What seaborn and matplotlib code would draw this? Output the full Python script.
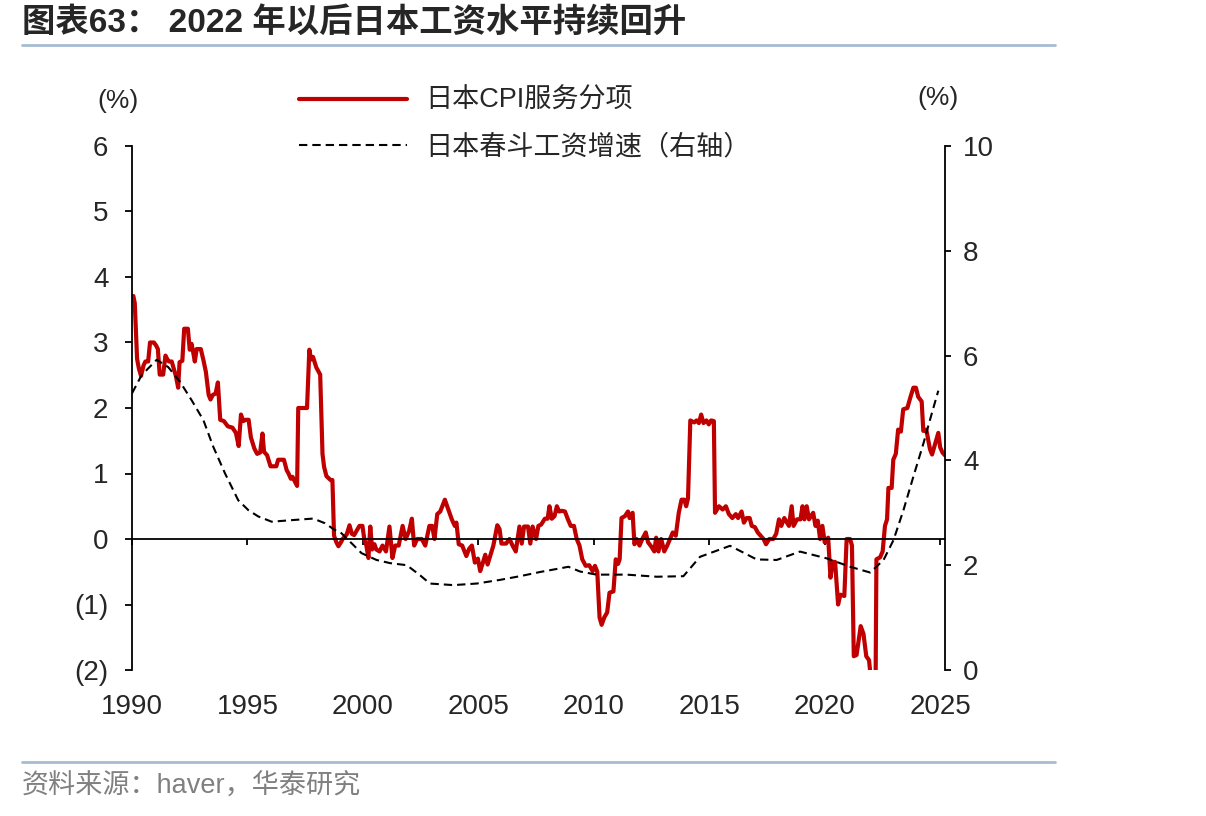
import numpy as np
import pandas as pd
import matplotlib
matplotlib.use("Agg")
import matplotlib.pyplot as plt
from matplotlib.lines import Line2D
import seaborn as sns

# 日本CPI服务分项 (% yoy, left axis)
cpi_dates = [
    1990.00, 1990.06, 1990.12, 1990.22, 1990.30, 1990.39, 1990.50, 1990.58, 1990.70, 1990.78,
    1990.95, 1991.05, 1991.12, 1991.20, 1991.35, 1991.45, 1991.52, 1991.60, 1991.72, 1991.82,
    1991.90, 1992.00, 1992.06, 1992.18, 1992.26, 1992.42, 1992.50, 1992.58, 1992.65, 1992.72,
    1992.80, 1992.98, 1993.10, 1993.20, 1993.32, 1993.40, 1993.50, 1993.62, 1993.72, 1993.82,
    1993.98, 1994.15, 1994.35, 1994.50, 1994.62, 1994.72, 1994.82, 1994.92, 1995.05, 1995.15,
    1995.30, 1995.42, 1995.55, 1995.65, 1995.72, 1995.85, 1996.00, 1996.25, 1996.33, 1996.58,
    1996.70, 1996.78, 1996.88, 1996.95, 1997.05, 1997.15, 1997.20, 1997.58, 1997.68, 1997.76,
    1997.84, 1997.98, 1998.15, 1998.25, 1998.32, 1998.42, 1998.60, 1998.68, 1998.75, 1998.85,
    1998.94, 1999.05, 1999.12, 1999.25, 1999.30, 1999.42, 1999.52, 1999.62, 1999.72, 1999.85,
    1999.98, 2000.06, 2000.15, 2000.24, 2000.32, 2000.40, 2000.50, 2000.58, 2000.72, 2000.85,
    2001.00, 2001.15, 2001.28, 2001.40, 2001.55, 2001.72, 2001.85, 2002.00, 2002.12, 2002.22,
    2002.35, 2002.55, 2002.70, 2002.88, 2003.00, 2003.10, 2003.22, 2003.35, 2003.55, 2003.70,
    2003.85, 2003.98, 2004.05, 2004.15, 2004.30, 2004.48, 2004.60, 2004.72, 2004.85, 2004.98,
    2005.08, 2005.18, 2005.30, 2005.40, 2005.52, 2005.65, 2005.82, 2005.92, 2006.00, 2006.20,
    2006.35, 2006.48, 2006.62, 2006.78, 2006.88, 2006.98, 2007.15, 2007.25, 2007.35, 2007.50,
    2007.60, 2007.72, 2007.88, 2008.00, 2008.08, 2008.18, 2008.30, 2008.40, 2008.50, 2008.62,
    2008.75, 2008.88, 2009.00, 2009.14, 2009.26, 2009.38, 2009.50, 2009.65, 2009.80, 2009.95,
    2010.05, 2010.15, 2010.25, 2010.34, 2010.45, 2010.58, 2010.68, 2010.85, 2010.95, 2011.05,
    2011.12, 2011.20, 2011.35, 2011.48, 2011.55, 2011.68, 2011.76, 2011.85, 2011.98, 2012.10,
    2012.25, 2012.35, 2012.50, 2012.62, 2012.70, 2012.80, 2012.92, 2013.05, 2013.18, 2013.30,
    2013.42, 2013.55, 2013.68, 2013.80, 2013.92, 2014.00, 2014.08, 2014.18, 2014.35, 2014.45,
    2014.55, 2014.65, 2014.75, 2014.88, 2014.98, 2015.08, 2015.20, 2015.25, 2015.42, 2015.58,
    2015.72, 2015.85, 2016.00, 2016.15, 2016.25, 2016.40, 2016.50, 2016.62, 2016.75, 2016.84,
    2016.98, 2017.10, 2017.20, 2017.35, 2017.46, 2017.60, 2017.77, 2017.90, 2018.02, 2018.12,
    2018.25, 2018.45, 2018.57, 2018.65, 2018.80, 2018.95, 2019.04, 2019.12, 2019.22, 2019.32,
    2019.50, 2019.60, 2019.70, 2019.80, 2019.90, 2020.00, 2020.15, 2020.25, 2020.35, 2020.45,
    2020.58, 2020.68, 2020.85, 2020.95, 2021.10, 2021.18, 2021.26, 2021.38, 2021.56, 2021.68,
    2021.80, 2021.92, 2021.99, 2022.10, 2022.20, 2022.24, 2022.40, 2022.51, 2022.61, 2022.70,
    2022.76, 2022.90, 2022.97, 2023.08, 2023.18, 2023.30, 2023.40, 2023.58, 2023.70, 2023.84,
    2023.95, 2024.05, 2024.20, 2024.27, 2024.40, 2024.56, 2024.65, 2024.78, 2024.92, 2025.00,
    2025.10, 2025.20,
]
cpi_values = [
    3.70, 3.71, 3.60, 2.75, 2.60, 2.49, 2.65, 2.71, 2.71, 3.00,
    3.00, 2.95, 2.90, 2.51, 2.51, 2.80, 2.75, 2.71, 2.71, 2.59,
    2.49, 2.31, 2.70, 2.72, 3.21, 3.21, 2.89, 2.98, 2.85, 2.71,
    2.90, 2.90, 2.72, 2.55, 2.20, 2.13, 2.20, 2.22, 2.39, 1.82,
    1.80, 1.72, 1.70, 1.62, 1.42, 1.90, 1.80, 1.82, 1.82, 1.55,
    1.38, 1.30, 1.32, 1.61, 1.33, 1.28, 1.11, 1.11, 1.21, 1.21,
    1.05, 1.00, 0.92, 0.95, 0.88, 0.81, 2.00, 2.00, 2.89, 2.74,
    2.78, 2.62, 2.51, 1.30, 1.10, 0.96, 0.90, 0.90, 0.05, -0.05,
    -0.11, -0.05, 0.00, 0.05, 0.07, 0.21, 0.08, 0.06, 0.12, 0.20,
    0.20, 0.00, -0.10, -0.29, 0.19, -0.16, -0.08, -0.16, -0.19, -0.10,
    -0.19, 0.19, -0.29, -0.10, -0.10, 0.20, 0.00, 0.12, 0.31, -0.10,
    0.00, 0.00, -0.10, 0.20, 0.20, 0.00, 0.38, 0.42, 0.60, 0.45,
    0.30, 0.20, 0.25, -0.08, -0.10, -0.26, -0.15, -0.10, -0.36, -0.30,
    -0.49, -0.38, -0.24, -0.39, -0.25, -0.10, 0.21, 0.15, -0.07, -0.07,
    0.00, -0.10, -0.19, 0.19, -0.07, 0.19, 0.19, -0.07, 0.19, 0.00,
    0.20, 0.22, 0.31, 0.31, 0.50, 0.31, 0.35, 0.50, 0.42, 0.43,
    0.42, 0.30, 0.20, 0.20, 0.00, -0.10, -0.31, -0.41, -0.40, -0.49,
    -0.41, -0.50, -1.20, -1.31, -1.20, -1.12, -0.82, -0.80, -0.31, -0.38,
    -0.31, 0.32, 0.35, 0.42, 0.32, 0.40, -0.08, 0.00, -0.10, 0.00,
    0.10, -0.05, -0.12, -0.19, 0.02, -0.19, 0.00, -0.19, -0.10, 0.00,
    0.10, 0.05, 0.40, 0.60, 0.60, 0.50, 0.62, 1.81, 1.78, 1.81,
    1.77, 1.90, 1.77, 1.81, 1.75, 1.81, 1.80, 0.40, 0.50, 0.45,
    0.50, 0.38, 0.32, 0.38, 0.32, 0.42, 0.25, 0.32, 0.32, 0.20,
    0.18, 0.10, 0.06, 0.00, -0.08, 0.00, 0.00, 0.08, 0.30, 0.20,
    0.32, 0.20, 0.50, 0.20, 0.30, 0.30, 0.50, 0.30, 0.50, 0.30,
    0.40, 0.20, 0.28, 0.00, 0.20, -0.05, 0.02, -0.59, -0.35, -0.35,
    -1.00, -0.85, -0.87, 0.00, 0.00, -0.10, -1.79, -1.77, -1.33, -1.45,
    -1.79, -1.85, -2.10, -2.40, -2.40, -0.31, -0.28, -0.19, 0.20, 0.30,
    0.78, 0.78, 1.21, 1.30, 1.67, 1.64, 1.98, 2.00, 2.15, 2.31,
    2.31, 2.17, 2.10, 1.65, 1.67, 1.37, 1.29, 1.45, 1.62, 1.40,
    1.32, 1.28,
]

# 日本春斗工资增速 (%, right axis)
wage_dates = [
    1990.00, 1990.42, 1991.07, 1991.57, 1992.08, 1992.58, 1993.09, 1993.52, 1994.03, 1994.60,
    1995.04, 1995.47, 1996.05, 1996.92, 1997.85, 1998.36, 1998.79, 1999.00, 1999.44, 1999.94,
    2000.59, 2001.17, 2001.90, 2002.47, 2002.90, 2003.92, 2004.93, 2005.94, 2006.80, 2007.67,
    2008.54, 2008.90, 2009.40, 2010.12, 2011.42, 2012.72, 2013.88, 2014.60, 2015.03, 2015.90,
    2016.48, 2017.05, 2017.92, 2018.93, 2020.09, 2021.10, 2021.97, 2022.55, 2022.98, 2023.41,
    2023.84, 2024.28, 2024.64, 2024.92,
]
wage_values = [
    5.28, 5.63, 5.92, 5.78, 5.50, 5.15, 4.77, 4.26, 3.75, 3.24,
    3.05, 2.93, 2.83, 2.86, 2.89, 2.80, 2.67, 2.64, 2.45, 2.23,
    2.10, 2.04, 2.00, 1.81, 1.65, 1.62, 1.65, 1.72, 1.79, 1.87,
    1.94, 1.97, 1.88, 1.82, 1.82, 1.78, 1.79, 2.16, 2.23, 2.37,
    2.24, 2.11, 2.10, 2.26, 2.13, 1.97, 1.86, 2.10, 2.48, 3.05,
    3.69, 4.33, 4.90, 5.33,
]

x_ticks = [1990, 1995, 2000, 2005, 2010, 2015, 2020, 2025]
left_ticks = [-2, -1, 0, 1, 2, 3, 4, 5, 6]
left_labels = ["(2)", "(1)", "0", "1", "2", "3", "4", "5", "6"]
right_ticks = [0, 2, 4, 6, 8, 10]

cpi = pd.DataFrame({"date": cpi_dates, "value": cpi_values})
wage = pd.DataFrame({"date": wage_dates, "value": wage_values})

sns.set_style("white")
plt.rcParams["font.family"] = ["Liberation Sans", "Noto Sans CJK SC"]
plt.rcParams["axes.unicode_minus"] = False

W, H = 1206, 816
fig = plt.figure(figsize=(W / 100, H / 100), dpi=100)
ax = fig.add_axes([132 / W, 1 - 670 / H, (945 - 132) / W, (670 - 146) / H])
ax2 = ax.twinx()

sns.lineplot(data=cpi, x="date", y="value", ax=ax, color="#C00000", lw=3,
             label="日本CPI服务分项", legend=False)
sns.lineplot(data=wage, x="date", y="value", ax=ax2, color="black", lw=1.5,
             linestyle=(0, (4, 2.4)), label="日本春斗工资增速（右轴）", legend=False)

ax.set_xlim(1990, 2025.21)
ax.set_ylim(-2, 6)
ax2.set_ylim(0, 10)
ax.set_xlabel("")
ax.set_ylabel("")
ax2.set_ylabel("")

# x-axis sits on the zero line, labels at the bottom
ax.spines["bottom"].set_position(("data", 0))
for s in ["top", "right"]:
    ax.spines[s].set_visible(False)
for s in ["top", "bottom", "left"]:
    ax2.spines[s].set_visible(False)
for s in [ax.spines["left"], ax.spines["bottom"], ax2.spines["right"]]:
    s.set_color("black")
    s.set_linewidth(1.3)

ax.set_xticks(x_ticks)
ax.set_xticklabels([str(t) for t in x_ticks])
ax.set_yticks(left_ticks, labels=left_labels)
ax2.set_yticks(right_ticks)
ax.tick_params(axis="x", direction="out", length=4.5, width=1.3, color="black",
               pad=107, labelsize=20, bottom=True)
ax.tick_params(axis="y", direction="out", length=5, width=1.3, color="black",
               pad=12, labelsize=20, left=True)
ax2.tick_params(axis="y", direction="out", length=4, width=1.3, color="black",
                pad=9, labelsize=20, right=True)

fig.text(118 / W, 1 - 101 / H, "(%)", fontsize=19, ha="center", va="center")
fig.text(938 / W, 1 - 98 / H, "(%)", fontsize=19, ha="center", va="center")

h1, l1 = ax.get_legend_handles_labels()
h2, l2 = ax2.get_legend_handles_labels()
fig.legend(h1 + h2, l1 + l2, loc="upper left", bbox_to_anchor=(299 / W, 1 - 88 / H),
           frameon=False, fontsize=19.5, handlelength=4.0, handletextpad=0.65,
           labelspacing=0.75, borderpad=0, borderaxespad=0)

fig.text(22 / W, 1 - 23 / H, "图表63： 2022 年以后日本工资水平持续回升",
         fontsize=24, fontweight="bold", ha="left", va="center")
fig.add_artist(Line2D([22 / W, 1055 / W], [1 - 45 / H] * 2, color="#A7BBD2", lw=2))
fig.add_artist(Line2D([22 / W, 1055 / W], [1 - 762 / H] * 2, color="#A7BBD2", lw=2))
fig.text(22 / W, 1 - 787 / H, "资料来源：haver，华泰研究", fontsize=19.5, color="#808080",
         ha="left", va="center")

fig.savefig("out.png", dpi=100)
